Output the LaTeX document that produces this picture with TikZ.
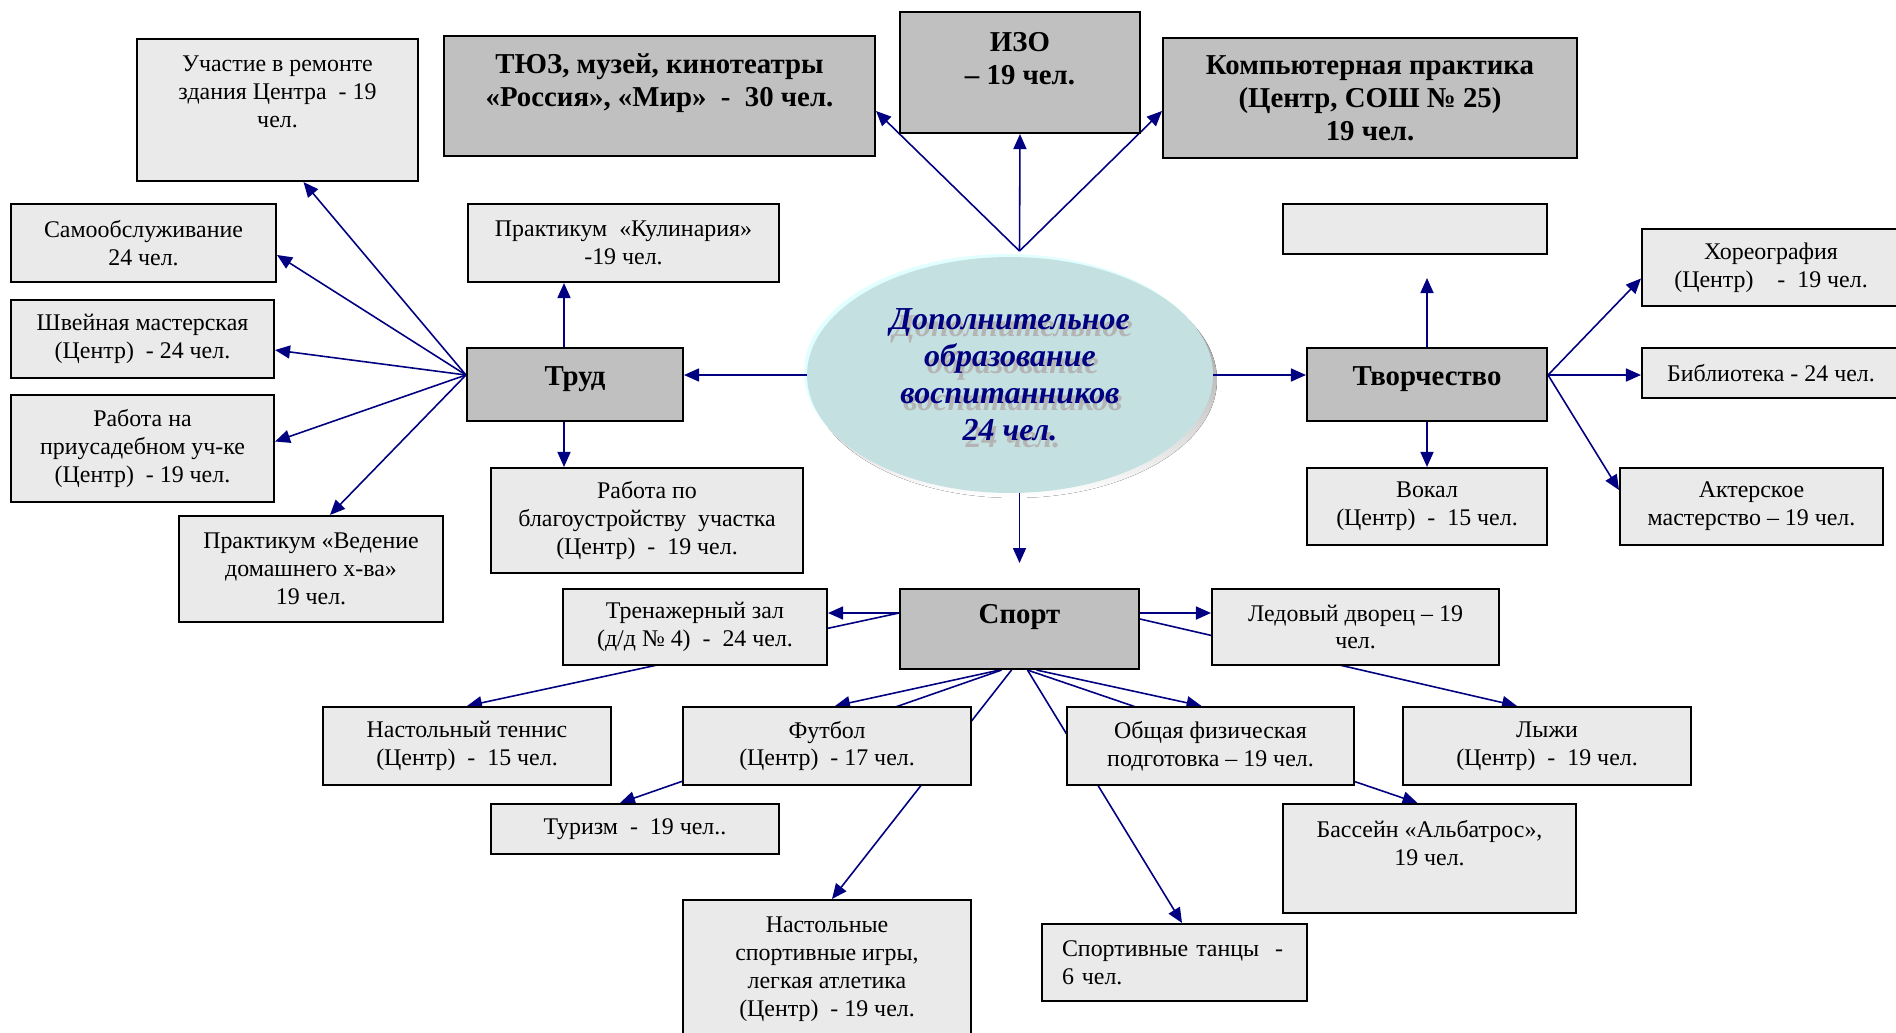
\documentclass[tikz,border=0pt]{standalone}
\usepackage{fontspec}
\setmainfont{Liberation Serif}
\usetikzlibrary{arrows.meta,backgrounds,shapes.geometric}
\definecolor{linkblue}{HTML}{000080}
\definecolor{boxgray}{HTML}{C0C0C0}
\definecolor{paper}{HTML}{EAEAEA}
\definecolor{tealfill}{HTML}{C5E0E0}
\definecolor{tealrim}{HTML}{E2FFFF}
\definecolor{shade}{HTML}{B4B4B4}
\tikzset{
  box/.style={draw, line width=1.2pt, fill=paper, align=center, inner sep=2pt, font=\fontsize{13.6}{15.9}\selectfont},
  headbox/.style={box, fill=boxgray, font=\fontsize{16.4}{18.7}\selectfont\bfseries},
  link/.style={draw=linkblue, line width=0.9pt, -{Triangle[length=0.3cm,width=0.26cm]}},
  centre/.style={ellipse, fill=tealfill, minimum width=8.12cm, minimum height=4.72cm, inner sep=0pt},
  centtext/.style={align=center, font=\fontsize{18.2}{21}\selectfont\bfseries\itshape, text=linkblue}
}
\begin{document}
\begin{tikzpicture}[x=0.02cm, y=-0.02cm]
\useasboundingbox (0,0) rectangle (1896,1032);

\node[box, minimum width=5.62cm, minimum height=2.84cm, text depth=0.72cm] (uchastie) at (277.5,110) {Участие в ремонте\\здания Центра\ \ - 19\\чел.};
\node[headbox, minimum width=8.62cm, minimum height=2.4cm, text depth=0.65cm] (tjuz) at (659.5,96) {ТЮЗ, музей, кинотеатры\\«Россия», «Мир»\ \ -\ \ 30 чел.};
\node[headbox, minimum width=4.8cm, minimum height=2.42cm, text depth=0.57cm] (izo) at (1020,72.5) {ИЗО\\– 19 чел.};
\node[headbox, minimum width=8.28cm, minimum height=2.4cm] (komp) at (1370,98) {Компьютерная практика\\(Центр, СОШ № 25)\\19 чел.};
\node[box, minimum width=5.3cm, minimum height=1.56cm] (samoobsl) at (143.5,243) {Самообслуживание\\24 чел.};
\node[box, minimum width=6.22cm, minimum height=1.56cm] (kulin) at (623.5,243) {Практикум\ \ «Кулинария»\\-19 чел.};
\node[box, minimum width=5.28cm, minimum height=1cm] (blank) at (1415,229) {};
\node[box, minimum width=5.16cm, minimum height=1.54cm] (choreo) at (1771,267.5) {Хореография\\(Центр)\ \ \ \ -\ \ 19 чел.};
\node[box, minimum width=5.26cm, minimum height=1.56cm] (shvein) at (142.5,339) {Швейная мастерская\\(Центр)\ \ - 24 чел.};
\node[headbox, minimum width=4.32cm, minimum height=1.46cm, text depth=0.32cm] (trud) at (575,384.5) {Труд};
\node[centre] (cent) at (1010,375) {};
\node[centtext, text=shade] (centshadow) at ([shift={(0.06cm,-0.14cm)}]cent.center) {Дополнительное\\образование\\воспитанников\\24 чел.};
\node[centtext] (centlabel) at (cent.center) {Дополнительное\\образование\\воспитанников\\24 чел.};
\node[headbox, minimum width=4.8cm, minimum height=1.46cm, text depth=0.32cm] (tvorch) at (1427,384.5) {Творчество};
\node[box, minimum width=5.16cm, minimum height=1cm] (biblio) at (1771,373) {Библиотека - 24 чел.};
\node[box, minimum width=5.26cm, minimum height=2.14cm] (usadba) at (142.5,448.5) {Работа на\\приусадебном уч-ке\\(Центр)\ \ - 19 чел.};
\node[box, minimum width=6.24cm, minimum height=2.1cm] (blago) at (647,520.5) {Работа по\\благоустройству\ \ участка\\(Центр)\ \ -\ \ 19 чел.};
\node[box, minimum width=4.8cm, minimum height=1.54cm] (vokal) at (1427,506.5) {Вокал\\(Центр)\ \ -\ \ 15 чел.};
\node[box, minimum width=5.26cm, minimum height=1.54cm] (akter) at (1751.5,506.5) {Актерское\\мастерство – 19 чел.};
\node[box, minimum width=5.28cm, minimum height=2.12cm] (vedenie) at (311,569) {Практикум «Ведение\\домашнего х-ва»\\19 чел.};
\node[box, minimum width=5.28cm, minimum height=1.52cm] (trenazh) at (695,627) {Тренажерный зал\\(д/д № 4)\ \ -\ \ 24 чел.};
\node[headbox, minimum width=4.78cm, minimum height=1.6cm, text depth=0.6cm] (sport) at (1019.5,629) {Спорт};
\node[box, minimum width=5.74cm, minimum height=1.52cm] (led) at (1355.5,627) {Ледовый дворец – 19\\чел.};
\node[box, minimum width=5.76cm, minimum height=1.56cm] (tennis) at (467,746) {Настольный теннис\\(Центр)\ \ -\ \ 15 чел.};
\node[box, minimum width=5.76cm, minimum height=1.56cm] (futbol) at (827,746) {Футбол\\(Центр)\ \ - 17 чел.};
\node[box, minimum width=5.74cm, minimum height=1.56cm] (ofp) at (1210.5,746) {Общая физическая\\подготовка – 19 чел.};
\node[box, minimum width=5.76cm, minimum height=1.56cm] (lyzhi) at (1547,746) {Лыжи\\(Центр)\ \ -\ \ 19 чел.};
\node[box, minimum width=5.76cm, minimum height=1cm] (turizm) at (635,829) {Туризм\ \ -\ \ 19 чел..};
\node[box, minimum width=5.86cm, minimum height=2.18cm, text depth=0.64cm] (bassein) at (1429.5,858.5) {Бассейн «Альбатрос»,\\19 чел.};
\node[box, minimum width=5.76cm, minimum height=3.2cm, text depth=0.52cm] (nastigry) at (827,980) {Настольные\\спортивные игры,\\легкая атлетика\\(Центр)\ \ - 19 чел.};
\node[box, minimum width=5.3cm, minimum height=1.54cm, align=left, text width=4.5cm] (tancy) at (1174.5,962.5) {Спортивные танцы\ \ -\\6 чел.};

\coordinate (trudL) at (trud.west |- cent.west);
\coordinate (tvorchR) at (tvorch.east |- cent.east);
\coordinate (topfan) at (1019.5,251);
\coordinate (sportup) at (1019.5,563);
\coordinate (tvorchup) at (1427,278);
\coordinate (sportL) at ([yshift=0.32cm]sport.west);
\coordinate (sportR) at ([yshift=0.32cm]sport.east);

\begin{scope}[on background layer]
\fill[shade] ([shift={(0.08cm,-0.1cm)}]cent.center) ellipse [x radius=4.06cm, y radius=2.36cm];
\fill[tealrim] ([shift={(-0.06cm,0.06cm)}]cent.center) ellipse [x radius=4.06cm, y radius=2.36cm];

\draw[link] (cent.west) -- (cent.west -| trud.east);
\draw[link] (cent.east) -- (cent.east -| tvorch.west);
\draw[link] (sportup |- cent.south) -- (sportup);
\draw[link] (topfan) -- ([yshift=-0.3cm]tjuz.east);
\draw[link] (topfan) -- (izo.south);
\draw[link] (topfan) -- ([yshift=-0.26cm]komp.west);

\draw[link] (trudL) -- ([xshift=0.52cm]uchastie.south);
\draw[link] (trudL) -- ([yshift=-0.24cm]samoobsl.east);
\draw[link] (trudL) -- ([yshift=-0.22cm]shvein.east);
\draw[link] (trudL) -- ([yshift=0.14cm]usadba.east);
\draw[link] (trudL) -- ([xshift=0.38cm]vedenie.north);
\draw[link] ([xshift=-0.22cm]trud.north) -- ([xshift=-0.22cm]trud.north |- kulin.south);
\draw[link] ([xshift=-0.22cm]trud.south) -- ([xshift=-0.22cm]trud.south |- blago.north);

\draw[link] (tvorch.north) -- (tvorchup);
\draw[link] (tvorchR) -- ([yshift=-0.22cm]choreo.west);
\draw[link] (tvorchR) -- (tvorchR -| biblio.west);
\draw[link] (tvorchR) -- ([yshift=0.33cm]akter.west);
\draw[link] (tvorch.south) -- (vokal.north);

\draw[link] (sportL) -- (sportL -| trenazh.east);
\draw[link] (sportL) -- (tennis.north);
\draw[link] (sportR) -- (sportR -| led.west);
\draw[link] ([yshift=0.2cm]sport.east) -- ([xshift=-0.6cm]lyzhi.north);
\draw[link] ([xshift=-0.4cm]sport.south) -- ([xshift=0.16cm]futbol.north);
\draw[link] ([xshift=-0.36cm]sport.south) -- ([xshift=-0.3cm]turizm.north);
\draw[link] ([xshift=-0.16cm]sport.south) -- ([xshift=0.1cm]nastigry.north);
\draw[link] ([xshift=0.16cm]sport.south) -- ([xshift=0.15cm]tancy.north);
\draw[link] ([xshift=0.16cm]sport.south) -- ([xshift=-0.24cm]bassein.north);
\draw[link] ([xshift=0.34cm]sport.south) -- ([xshift=-0.18cm]ofp.north);
\end{scope}
\end{tikzpicture}
\end{document}
